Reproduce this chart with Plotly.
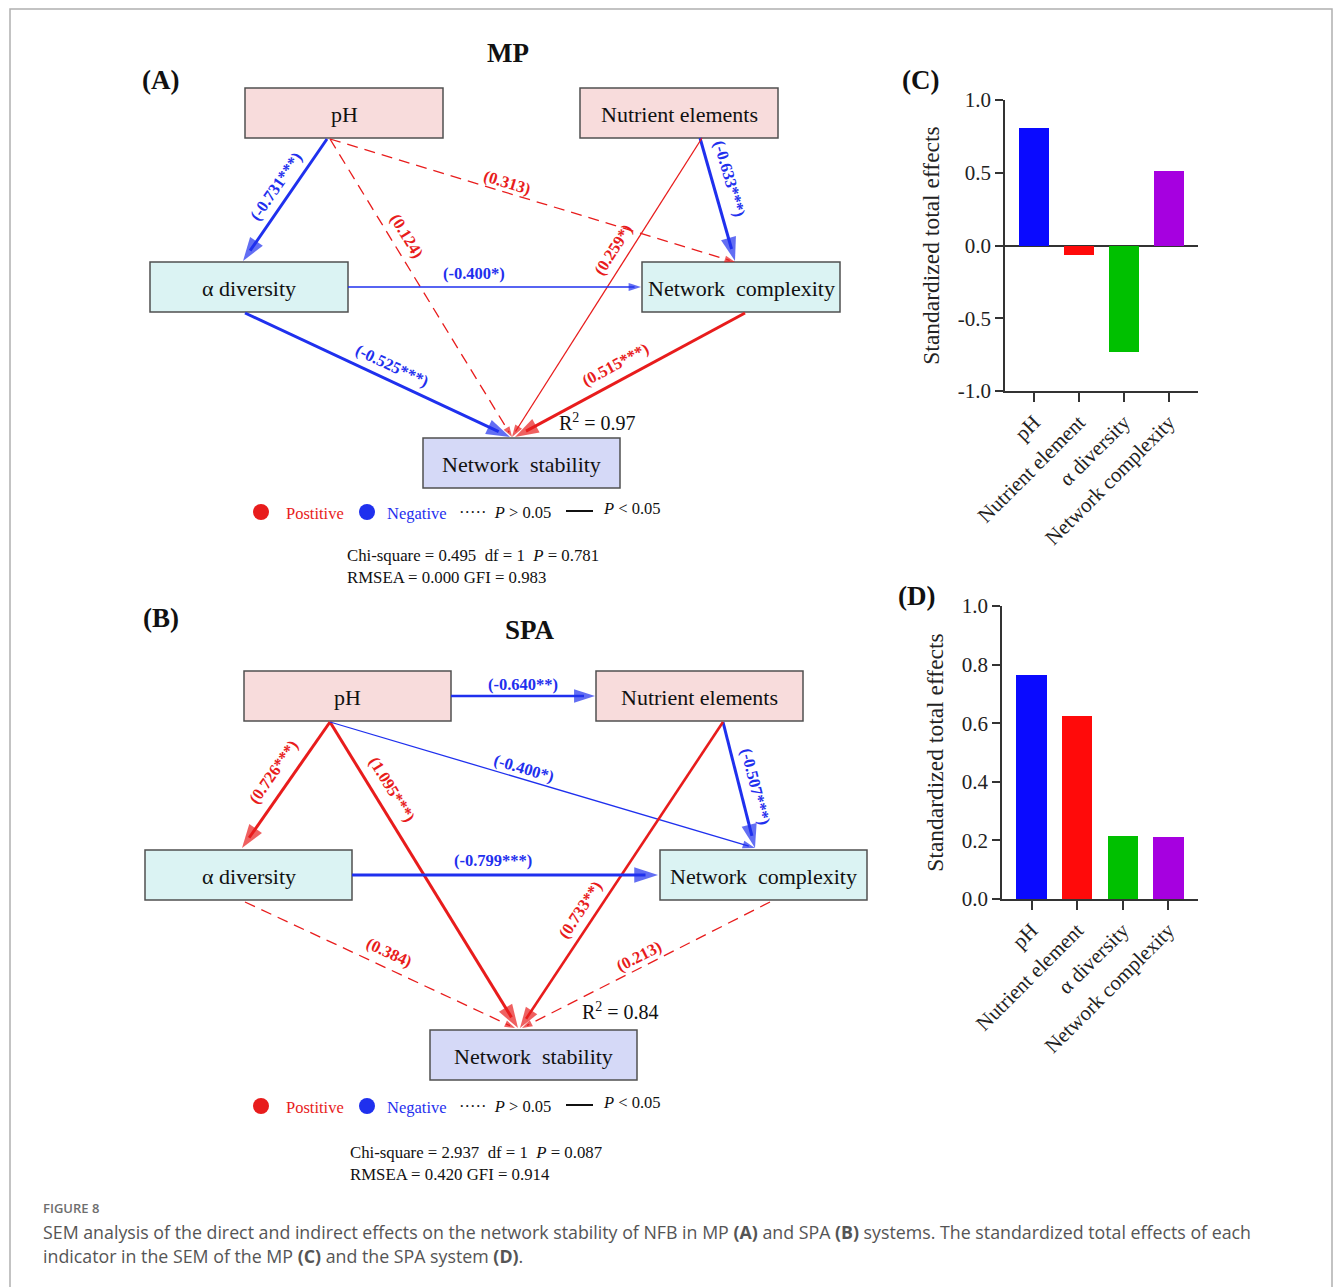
import math
import plotly.graph_objects as go

# ---------------- data ----------------
EFFECT_CATEGORIES = ["pH", "Nutrient element", "α diversity", "Network complexity"]
MP_TOTAL_EFFECTS = [0.81, -0.067, -0.731, 0.515]
SPA_TOTAL_EFFECTS = [0.765, 0.625, 0.214, 0.213]
BAR_COLORS = ["#0a0aff", "#ff0a0a", "#00c000", "#a600e0"]

MP_TICKS = [-1.0, -0.5, 0.0, 0.5, 1.0]
SPA_TICKS = [0.0, 0.2, 0.4, 0.6, 0.8, 1.0]

# SEM paths: (source, target, standardized coefficient, significance stars)
MP_PATHS = [
    ("pH", "div", -0.731, "***"),
    ("pH", "nc", 0.313, ""),
    ("pH", "ns", 0.124, ""),
    ("nut", "nc", -0.633, "***"),
    ("nut", "ns", 0.259, "*"),
    ("div", "nc", -0.400, "*"),
    ("div", "ns", -0.525, "***"),
    ("nc", "ns", 0.515, "***"),
]
SPA_PATHS = [
    ("pH", "nut", -0.640, "**"),
    ("pH", "div", 0.726, "***"),
    ("pH", "ns", 1.095, "***"),
    ("pH", "nc", -0.400, "*"),
    ("nut", "nc", -0.507, "***"),
    ("nut", "ns", 0.733, "**"),
    ("div", "nc", -0.799, "***"),
    ("div", "ns", 0.384, ""),
    ("nc", "ns", 0.213, ""),
]
MP_R2 = 0.97
SPA_R2 = 0.84
MP_FIT = {"chi": "0.495", "df": "1", "p": "0.781", "rmsea": "0.000", "gfi": "0.983"}
SPA_FIT = {"chi": "2.937", "df": "1", "p": "0.087", "rmsea": "0.420", "gfi": "0.914"}

NODE_LABELS = {
    "pH": "pH",
    "nut": "Nutrient elements",
    "div": "α diversity",
    "nc": "Network\u00a0\u00a0complexity",
    "ns": "Network\u00a0\u00a0stability",
}

# ---------------- layout / style ----------------
W, H = 1333, 1287
SERIF = "Liberation Serif, Times New Roman, serif"
SANS = "Open Sans, Noto Sans, sans-serif"
NEG_BLUE = "#1f30ee"
POS_RED = "#e81c1c"
LINE_W = {"": 1.3, "*": 1.3, "**": 2.6, "***": 3.0}
HEAD_LEN = {"": 11, "*": 13, "**": 22, "***": 25}
NODE_FILL = {"pH": "#f8dcdc", "nut": "#f8dcdc", "div": "#dbf3f3",
             "nc": "#dbf3f3", "ns": "#d5d9f7"}

MP_BOXES = {"pH": (245, 88, 443, 138), "nut": (580, 88, 778, 138),
            "div": (150, 262, 348, 312), "nc": (642, 262, 840, 312),
            "ns": (423, 438, 620, 488)}
SPA_BOXES = {"pH": (244, 671, 451, 721), "nut": (596, 671, 803, 721),
             "div": (145, 850, 352, 900), "nc": (660, 850, 867, 900),
             "ns": (430, 1030, 637, 1080)}

# edge endpoints (start, end) plus label position (fraction along edge, offset)
MP_GEOM = {
    ("pH", "div"): ((327, 139), (243, 261), 0.46, 15),
    ("pH", "nc"): ((330, 139), (735, 262), 0.43, 10),
    ("pH", "ns"): ((330, 139), (512, 437), 0.35, 15),
    ("nut", "nc"): ((700, 138), (735, 261), 0.37, 17),
    ("nut", "ns"): ((702, 138), (512, 437), 0.40, 15),
    ("div", "nc"): ((348, 287), (641, 287), 0.43, 14),
    ("div", "ns"): ((245, 313), (510, 437), 0.53, 15),
    ("nc", "ns"): ((745, 313), (515, 437), 0.53, 16),
}
SPA_GEOM = {
    ("pH", "nut"): ((451, 696), (595, 696), 0.50, 12),
    ("pH", "div"): ((330, 722), (242, 848), 0.48, 18),
    ("pH", "ns"): ((330, 722), (518, 1028), 0.25, 18),
    ("pH", "nc"): ((330, 722), (755, 848), 0.45, 11),
    ("nut", "nc"): ((723, 722), (755, 848), 0.54, 16),
    ("nut", "ns"): ((723, 722), (520, 1028), 0.64, 15),
    ("div", "nc"): ((352, 875), (658, 875), 0.46, 15),
    ("div", "ns"): ((245, 902), (515, 1028), 0.51, 15),
    ("nc", "ns"): ((770, 902), (522, 1028), 0.51, 11),
}

fig = go.Figure()
shapes = []
annotations = []


def txt(x, y, text, size=16, color="#111", xanchor="left", angle=0, family=SERIF, **kw):
    d = dict(x=x, y=y, xref="x", yref="y", text=text, showarrow=False,
             xanchor=xanchor, yanchor="middle", textangle=angle,
             font=dict(family=family, size=size, color=color))
    d.update(kw)
    annotations.append(d)


def draw_sem(paths, boxes, geom):
    for key, (x0, y0, x1, y1) in boxes.items():
        shapes.append(dict(type="rect", xref="x", yref="y", x0=x0, y0=y0, x1=x1, y1=y1,
                           fillcolor=NODE_FILL[key], line=dict(color="#505050", width=1.5),
                           layer="below"))
        txt((x0 + x1) / 2, (y0 + y1) / 2 + 1, NODE_LABELS[key], size=22, xanchor="center")
    for src, tgt, coef, sig in paths:
        (sx, sy), (ex, ey), t, off = geom[(src, tgt)]
        color = POS_RED if coef > 0 else NEG_BLUE
        w = LINE_W[sig]
        head = HEAD_LEN[sig]
        dx, dy = ex - sx, ey - sy
        length = math.hypot(dx, dy)
        ux, uy = dx / length, dy / length
        # shaft stops inside the arrowhead
        bx, by = ex - ux * head * 0.5, ey - uy * head * 0.5
        fig.add_trace(go.Scatter(
            x=[sx, bx], y=[sy, by], mode="lines", xaxis="x", yaxis="y",
            line=dict(color=color, width=w, dash="11px,7px" if sig == "" else "solid"),
            hoverinfo="skip", showlegend=False))
        # arrowhead oriented along the edge
        fig.add_trace(go.Scatter(
            x=[bx, ex], y=[by, ey], mode="markers", xaxis="x", yaxis="y",
            marker=dict(symbol="arrow", angleref="previous", size=[0, head],
                        color=color, line=dict(width=0)),
            hoverinfo="skip", showlegend=False))
        ang = math.degrees(math.atan2(dy, dx))
        if ang > 90:
            ang -= 180
        elif ang <= -90:
            ang += 180
        r = math.radians(ang)
        lx = sx + t * dx + off * math.sin(r)
        ly = sy + t * dy - off * math.cos(r)
        txt(lx, ly, f"<b>({coef:.3f}{sig})</b>", size=16.5, color=color,
            xanchor="center", angle=ang)


def draw_key(x, y, r2_xy, r2, fit, fit_xy):
    # sign / significance key
    shapes.append(dict(type="circle", xref="x", yref="y", x0=x - 8, x1=x + 8, y0=y - 8, y1=y + 8,
                       fillcolor=POS_RED, line=dict(width=0)))
    txt(x + 23, y + 1, "Postitive", color=POS_RED, size=16.5)
    shapes.append(dict(type="circle", xref="x", yref="y", x0=x + 98, x1=x + 114, y0=y - 8, y1=y + 8,
                       fillcolor=NEG_BLUE, line=dict(width=0)))
    txt(x + 124, y + 1, "Negative", color=NEG_BLUE, size=16.5)
    txt(x + 196, y, "·····\u00a0\u00a0<i>P</i>\u00a0>\u00a00.05", color="#111", size=16.5)
    shapes.append(dict(type="line", xref="x", yref="y", x0=x + 305, x1=x + 332, y0=y - 1, y1=y - 1,
                       line=dict(color="#111", width=2)))
    txt(x + 340, y - 4, "<i>P</i>\u00a0<\u00a00.05", color="#111", size=16.5)
    txt(r2_xy[0], r2_xy[1], f"R<sup>2</sup> = {r2:.2f}", size=20)
    fx, fy = fit_xy
    txt(fx, fy, f"Chi-square = {fit['chi']}\u00a0\u00a0df = {fit['df']}\u00a0\u00a0<i>P</i> = {fit['p']}",
        size=16.8)
    txt(fx, fy + 22, f"RMSEA = {fit['rmsea']} GFI = {fit['gfi']}", size=16.8)


# ---- panel A (MP) ----
txt(508, 53, "<b>MP</b>", size=27, xanchor="center")
txt(160, 80, "<b>(A)</b>", size=27, xanchor="center")
draw_sem(MP_PATHS, MP_BOXES, MP_GEOM)
draw_key(261, 512, (557, 422), MP_R2, MP_FIT, (345, 555))

# ---- panel B (SPA) ----
txt(530, 630, "<b>SPA</b>", size=27, xanchor="center")
txt(161, 618, "<b>(B)</b>", size=27, xanchor="center")
draw_sem(SPA_PATHS, SPA_BOXES, SPA_GEOM)
draw_key(261, 1106, (580, 1011), SPA_R2, SPA_FIT, (348, 1152))

# ---- panels C and D: standardized total effects ----
txt(920, 80, "<b>(C)</b>", size=27, xanchor="center")
txt(916, 596, "<b>(D)</b>", size=27, xanchor="center")

fig.add_trace(go.Bar(x=list(range(4)), y=MP_TOTAL_EFFECTS, width=0.67,
                     marker=dict(color=BAR_COLORS, line=dict(width=0)),
                     xaxis="x2", yaxis="y2", hoverinfo="skip", showlegend=False))
fig.add_trace(go.Bar(x=list(range(4)), y=SPA_TOTAL_EFFECTS, width=0.67,
                     marker=dict(color=BAR_COLORS, line=dict(width=0)),
                     xaxis="x3", yaxis="y3", hoverinfo="skip", showlegend=False))


def fmt(v):
    return f"{v:.1f}"


axis_font = dict(family=SERIF, size=21, color="#222")
cat_axis = dict(range=[-0.65, 3.65], tickvals=list(range(4)), ticktext=EFFECT_CATEGORIES,
                tickangle=-45, ticks="outside", ticklen=9, tickwidth=1.5, tickcolor="#333",
                showline=True, linecolor="#333", linewidth=1.5, showgrid=False,
                zeroline=False, tickfont=dict(family=SERIF, size=21, color="#222"),
                fixedrange=True, automargin=False)
val_axis = dict(ticks="outside", ticklen=8, tickwidth=1.5, tickcolor="#333",
                showline=True, linecolor="#333", linewidth=1.5, showgrid=False,
                tickfont=axis_font, fixedrange=True, automargin=False,
                title=dict(text="Standardized total effects", standoff=12,
                           font=dict(family=SERIF, size=23.5, color="#222")))


def px_x(a, b):
    return [a / W, b / W]


def px_y(top, bottom):
    return [1 - bottom / H, 1 - top / H]


fig.update_layout(
    template="none",
    width=W, height=H, autosize=False,
    margin=dict(l=0, r=0, t=0, b=0, pad=0, autoexpand=False),
    paper_bgcolor="white", plot_bgcolor="rgba(0,0,0,0)",
    xaxis=dict(domain=[0, 1], range=[0, W], visible=False, fixedrange=True, automargin=False),
    yaxis=dict(domain=[0, 1], range=[H, 0], visible=False, fixedrange=True, automargin=False),
    xaxis2=dict(cat_axis, domain=px_x(1005, 1198), anchor="y2"),
    yaxis2=dict(val_axis, domain=px_y(100, 391), anchor="x2", range=[-1, 1],
                tickvals=MP_TICKS, ticktext=[fmt(v) for v in MP_TICKS],
                zeroline=True, zerolinecolor="#333", zerolinewidth=1.5),
    xaxis3=dict(cat_axis, domain=px_x(1002, 1198), anchor="y3"),
    yaxis3=dict(val_axis, domain=px_y(606, 899), anchor="x3", range=[0, 1],
                tickvals=SPA_TICKS, ticktext=[fmt(v) for v in SPA_TICKS], zeroline=False),
    bargap=0,
)

# outer frame and caption
shapes.append(dict(type="rect", xref="x", yref="y", x0=10, x1=1332, y0=9, y1=1300,
                   line=dict(color="#b0b0b0", width=1.5), fillcolor="rgba(0,0,0,0)"))
txt(41, 1208, "FIGURE 8", size=13, color="#6e6e6e", family=SANS)
annotations[-1]["font"]["weight"] = 600
txt(41, 1232, "SEM analysis of the direct and indirect effects on the network stability of NFB in MP "
    "<b>(A)</b> and SPA <b>(B)</b> systems. The standardized total effects of each",
    size=17.8, color="#555", family=SANS)
txt(41, 1256, "indicator in the SEM of the MP <b>(C)</b> and the SPA system <b>(D)</b>.",
    size=17.8, color="#555", family=SANS)

fig.update_layout(shapes=shapes, annotations=annotations)
fig.write_html("out.html", post_script="document.body.style.margin='0';")
